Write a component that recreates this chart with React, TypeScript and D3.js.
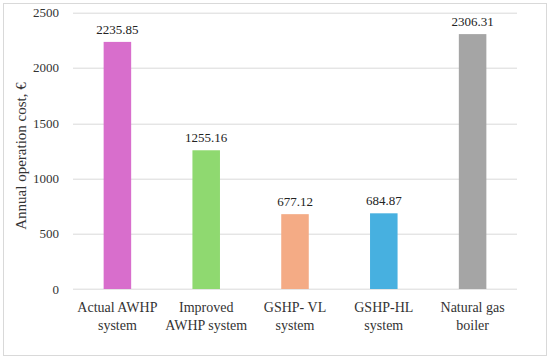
import React, { useEffect, useRef } from 'react';
import * as d3 from 'd3';

const categories = [
  ['Actual AWHP', 'system'],
  ['Improved', 'AWHP system'],
  ['GSHP- VL', 'system'],
  ['GSHP-HL', 'system'],
  ['Natural gas', 'boiler'],
];
const costs = [2235.85, 1255.16, 677.12, 684.87, 2306.31];
const barColors = ['#D86ECC', '#8FD970', '#F4AB85', '#47B0E0', '#A5A5A5'];
const yTicks = [0, 500, 1000, 1500, 2000, 2500];

const W = 550;
const H = 359;
const FONT = '"Liberation Serif", "Times New Roman", serif';

export default function App() {
  const svgRef = useRef<SVGSVGElement>(null);

  useEffect(() => {
    if (!svgRef.current) return;
    const svg = d3.select(svgRef.current);
    svg.selectAll('*').remove();

    const margin = { top: 12.7, right: 33, bottom: 70, left: 73 };
    const innerW = W - margin.left - margin.right;
    const innerH = H - margin.top - margin.bottom;

    // outer frame
    svg.append('rect')
      .attr('x', 3.5).attr('y', 3.5)
      .attr('width', W - 7).attr('height', H - 7)
      .attr('fill', '#fff')
      .attr('stroke', '#d9d9d9')
      .attr('stroke-width', 1);

    const g = svg.append('g').attr('transform', `translate(${margin.left},${margin.top})`);

    const x = d3.scaleBand<number>()
      .domain(d3.range(costs.length))
      .range([0, innerW])
      .padding(0);
    const y = d3.scaleLinear().domain([0, 2500]).range([innerH, 0]);

    // gridlines
    g.append('g')
      .selectAll('line')
      .data(yTicks)
      .join('line')
      .attr('x1', 0)
      .attr('x2', innerW)
      .attr('y1', d => Math.round(y(d)) + 0.5)
      .attr('y2', d => Math.round(y(d)) + 0.5)
      .attr('stroke', '#d9d9d9')
      .attr('stroke-width', 1);

    // y tick labels
    g.append('g')
      .selectAll('text')
      .data(yTicks)
      .join('text')
      .attr('x', -14)
      .attr('y', d => y(d))
      .attr('dy', '0.35em')
      .attr('text-anchor', 'end')
      .attr('font-family', FONT)
      .attr('font-size', 13)
      .attr('fill', '#333')
      .text(d => d);

    const barW = x.bandwidth() * 0.31;

    // bars
    g.append('g')
      .selectAll('rect')
      .data(costs)
      .join('rect')
      .attr('x', (d, i) => x(i)! + (x.bandwidth() - barW) / 2)
      .attr('y', d => y(d))
      .attr('width', barW)
      .attr('height', d => innerH - y(d))
      .attr('fill', (d, i) => barColors[i]);

    // value labels
    g.append('g')
      .selectAll('text')
      .data(costs)
      .join('text')
      .attr('x', (d, i) => x(i)! + x.bandwidth() / 2)
      .attr('y', d => y(d) - 8)
      .attr('text-anchor', 'middle')
      .attr('font-family', FONT)
      .attr('font-size', 13)
      .attr('fill', '#222')
      .text(d => d.toFixed(2));

    // category labels
    const cat = g.append('g')
      .selectAll('text')
      .data(categories)
      .join('text')
      .attr('x', (d, i) => x(i)! + x.bandwidth() / 2)
      .attr('y', innerH + 23)
      .attr('text-anchor', 'middle')
      .attr('font-family', FONT)
      .attr('font-size', 14)
      .attr('fill', '#333');
    cat.selectAll('tspan')
      .data(d => d)
      .join('tspan')
      .attr('x', function () {
        return (this.parentNode as SVGTextElement).getAttribute('x');
      })
      .attr('dy', (d, i) => (i === 0 ? 0 : 18))
      .text(d => d);

    // y axis title
    svg.append('text')
      .attr('transform', `translate(26,156) rotate(-90)`)
      .attr('text-anchor', 'middle')
      .attr('font-family', FONT)
      .attr('font-size', 15)
      .attr('fill', '#333')
      .text('Annual operation cost, €');
  }, []);

  return (
    <svg
      ref={svgRef}
      width={W}
      height={H}
      style={{ position: 'absolute', left: 0, top: 0, display: 'block' }}
    />
  );
}
